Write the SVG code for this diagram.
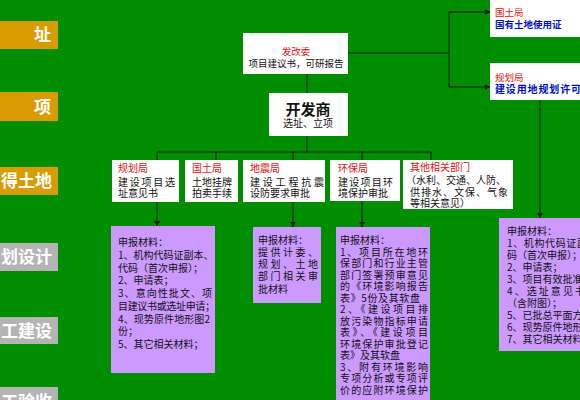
<svg xmlns="http://www.w3.org/2000/svg" width="580" height="400" viewBox="0 0 580 400">
<defs>
<marker id="arr" viewBox="0 0 10 10" refX="9" refY="5" markerWidth="6" markerHeight="6" orient="auto" markerUnits="userSpaceOnUse">
<path d="M0,0 L10,5 L0,10 z" fill="#0a1a0a"/>
</marker>
<style>
text{font-family:"Noto Sans CJK SC","Noto Sans",sans-serif;font-size:10px;fill:#111}
.lab{font-size:17px;font-weight:bold;fill:#fff;text-anchor:end}
.red{fill:#e01010}
.blue{fill:#0010c0;font-weight:bold}
.wb{fill:#fff}
.pb{fill:#cc99ff}
.or{fill:#d89c00}
.gr{fill:#b4b4b4}
.c{stroke:#0a1a0a;stroke-width:1;fill:none}
.ca{stroke:#0a1a0a;stroke-width:1;fill:none;marker-end:url(#arr)}
.mid{text-anchor:middle}
</style>
</defs>
<rect x="0" y="0" width="580" height="400" fill="#008e00"/>

<g id="labels">
<rect class="or" x="0" y="21" width="58" height="28"/><text class="lab" x="51" y="41">址</text>
<rect class="or" x="0" y="92" width="58" height="29"/><text class="lab" x="51" y="113">项</text>
<rect class="or" x="0" y="167" width="58" height="28"/><text class="lab" x="52" y="187">得土地</text>
<rect class="gr" x="0" y="243" width="58" height="28"/><text class="lab" x="52" y="263">划设计</text>
<rect class="gr" x="0" y="317" width="58" height="27"/><text class="lab" x="52" y="337">工建设</text>
<rect class="gr" x="0" y="387" width="58" height="20"/><text class="lab" x="52" y="408">工验收</text>
</g>

<g id="connectors">
<line class="c" x1="307" y1="74" x2="307" y2="93"/>
<line class="c" x1="348" y1="53" x2="449" y2="53"/>
<line class="c" x1="449" y1="12" x2="449" y2="87"/>
<line class="ca" x1="449" y1="12" x2="490" y2="12"/>
<line class="ca" x1="449" y1="87" x2="490" y2="87"/>
<line class="c" x1="307" y1="136" x2="307" y2="152"/>
<line class="c" x1="157" y1="152" x2="431" y2="152"/>
<line class="c" x1="157" y1="152" x2="157" y2="160"/>
<line class="c" x1="216" y1="152" x2="216" y2="160"/>
<line class="c" x1="293" y1="152" x2="293" y2="160"/>
<line class="c" x1="362" y1="152" x2="362" y2="160"/>
<line class="c" x1="431" y1="152" x2="431" y2="160"/>
<line class="ca" x1="157" y1="202" x2="157" y2="226"/>
<line class="ca" x1="293" y1="202" x2="293" y2="227"/>
<line class="ca" x1="362" y1="201" x2="362" y2="227"/>
<line class="ca" x1="540" y1="100" x2="540" y2="218"/>
</g>

<g id="fagaiwei">
<rect class="wb" x="243" y="33" width="105" height="41"/>
<text class="red mid" x="296" y="55" style="font-size:9.5px">发改委</text>
<text class="mid" x="296" y="67" style="font-size:9.5px">项目建议书，可研报告</text>
</g>

<g id="kaifashang">
<rect class="wb" x="269" y="93" width="79" height="43"/>
<text class="mid" x="308" y="115" style="font-size:15px;font-weight:bold">开发商</text>
<text class="mid" x="308" y="127">选址、立项</text>
</g>

<g id="guotuju-top">
<rect class="wb" x="490" y="-2" width="92" height="39"/>
<text class="red" x="495" y="16" style="font-size:9.5px">国土局</text>
<text class="blue" x="495" y="28" style="font-size:9.5px">国有土地使用证</text>
</g>

<g id="guihuaju-top">
<rect class="wb" x="490" y="63" width="92" height="37"/>
<text class="red" x="495" y="81" style="font-size:9.5px">规划局</text>
<text class="blue" x="495" y="93" style="font-size:10px" textLength="86">建设用地规划许可</text>
</g>

<g id="guihuaju">
<rect class="wb" x="112" y="160" width="67" height="42"/>
<text class="red" x="118" y="171.5">规划局</text>
<text x="118" y="185.5" textLength="57">建设项目选</text>
<text x="118" y="196.5">址意见书</text>
</g>

<g id="guotuju">
<rect class="wb" x="185" y="160" width="53" height="42"/>
<text class="red" x="192" y="171.5">国土局</text>
<text x="192" y="185.5">土地挂牌</text>
<text x="192" y="196.5">拍卖手续</text>
</g>

<g id="dizhenju">
<rect class="wb" x="243" y="160" width="82" height="42"/>
<text class="red" x="250" y="171.5">地震局</text>
<text x="250" y="185.5" textLength="74">建设工程抗震</text>
<text x="250" y="196.5">设防要求审批</text>
</g>

<g id="huanbaoju">
<rect class="wb" x="330" y="160" width="70" height="41"/>
<text class="red" x="338" y="171.5">环保局</text>
<text x="338" y="185.5" textLength="55">建设项目环</text>
<text x="338" y="196.5">境保护审批</text>
</g>

<g id="qita">
<rect class="wb" x="403" y="160" width="110" height="49"/>
<text class="red" x="410" y="171">其他相关部门</text>
<text x="406" y="184">（水利、交通、人防、</text>
<text x="410" y="196" textLength="98">供排水、文保、气象</text>
<text x="410" y="207">等相关意见）</text>
</g>

<g id="cailiao-guihua">
<rect class="pb" x="111" y="226" width="104" height="147"/>
<text x="118" y="246">申报材料：</text>
<text x="118" y="259">1、机构代码证副本、</text>
<text x="118" y="272">代码（首次申报）；</text>
<text x="118" y="284">2、申请表；</text>
<text x="118" y="297" textLength="94">3、意向性批文、项</text>
<text x="118" y="310" textLength="97">目建议书或选址申请；</text>
<text x="118" y="323" textLength="92">4、现势原件地形图2</text>
<text x="118" y="335">份；</text>
<text x="118" y="348">5、其它相关材料；</text>
</g>

<g id="cailiao-dizhen">
<rect class="pb" x="253" y="227" width="68" height="76"/>
<text x="258" y="244">申报材料：</text>
<text x="258" y="256" textLength="60">提供计委、</text>
<text x="258" y="268" textLength="60">规划、土地</text>
<text x="258" y="280" textLength="60">部门相关审</text>
<text x="258" y="293">批材料</text>
</g>

<g id="cailiao-huanbao">
<rect class="pb" x="336" y="227" width="94" height="180"/>
<text x="340" y="244">申报材料：</text>
<text x="340" y="256" textLength="88">1、项目所在地环</text>
<text x="340" y="267" textLength="88">保部门和行业主管</text>
<text x="340" y="279" textLength="88">部门签署预审意见</text>
<text x="340" y="290" textLength="88">的《环境影响报告</text>
<text x="340" y="302" textLength="80">表》5份及其软盘</text>
<text x="340" y="313" textLength="88">2、《建设项目排</text>
<text x="340" y="325" textLength="88">放污染物指标申请</text>
<text x="340" y="336" textLength="88">表》、《建设项目</text>
<text x="340" y="348" textLength="88">环境保护审批登记</text>
<text x="340" y="359">表》及其软盘</text>
<text x="340" y="371" textLength="88">3、附有环境影响</text>
<text x="340" y="382" textLength="88">专项分析或专项评</text>
<text x="340" y="394" textLength="88">价的应附环境保护</text>
</g>

<g id="cailiao-guihua-right">
<rect class="pb" x="499" y="218" width="83" height="133"/>
<text x="507" y="235">申报材料：</text>
<text x="507" y="247" textLength="80">1、机构代码证副</text>
<text x="507" y="259">码（首次申报）；</text>
<text x="507" y="271">2、申请表；</text>
<text x="507" y="283">3、项目有效批准</text>
<text x="507" y="295" textLength="78">4、选址意见书</text>
<text x="507" y="307">（含附图）；</text>
<text x="507" y="319">5、已批总平面方</text>
<text x="507" y="331">6、现势原件地形</text>
<text x="507" y="343">7、其它相关材料</text>
</g>
</svg>
